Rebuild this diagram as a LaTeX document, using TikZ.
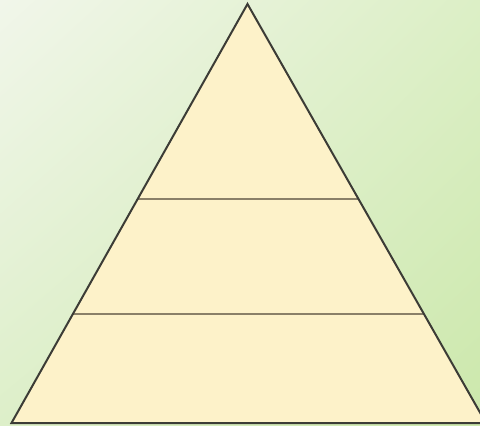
\documentclass[tikz,border=0pt]{standalone}
\usetikzlibrary{calc,shadings}
\definecolor{bgTL}{HTML}{F1F6EA}
\definecolor{bgTR}{HTML}{DCEFC6}
\definecolor{bgBL}{HTML}{DDEFC9}
\definecolor{bgBR}{HTML}{CCE8AC}
\definecolor{pyrfill}{HTML}{FDF2C9}
\definecolor{edge}{HTML}{3C3C36}
\definecolor{divider}{HTML}{8A8068}
\tikzset{
  pyredge/.style={draw=edge, line width=1.5pt, line join=miter},
  divline/.style={draw=divider, line width=2.1pt}
}
\begin{document}
\begin{tikzpicture}[x=0.75pt,y=-0.75pt]
\useasboundingbox (0,0) rectangle (480,426);
\begin{scope}
\clip (0,0) rectangle (480,426);
\shade[upper left=bgTL, upper right=bgTR, lower left=bgBL, lower right=bgBR] (0,0) rectangle (480,426);
\coordinate (apex) at (247.5,4);
\coordinate (bl) at (11.5,423);
\coordinate (br) at (486,423);
\coordinate (l1) at ($(apex)!0.4654!(bl)$);
\coordinate (r1) at ($(apex)!0.4654!(br)$);
\coordinate (l2) at ($(apex)!0.7399!(bl)$);
\coordinate (r2) at ($(apex)!0.7399!(br)$);
\fill[pyrfill] (apex) -- (bl) -- (br) -- cycle;
\draw[divline] (l1) -- (r1);
\draw[divline] (l2) -- (r2);
\draw[pyredge] (apex) -- (bl) -- (br) -- cycle;
\end{scope}
\end{tikzpicture}
\end{document}
